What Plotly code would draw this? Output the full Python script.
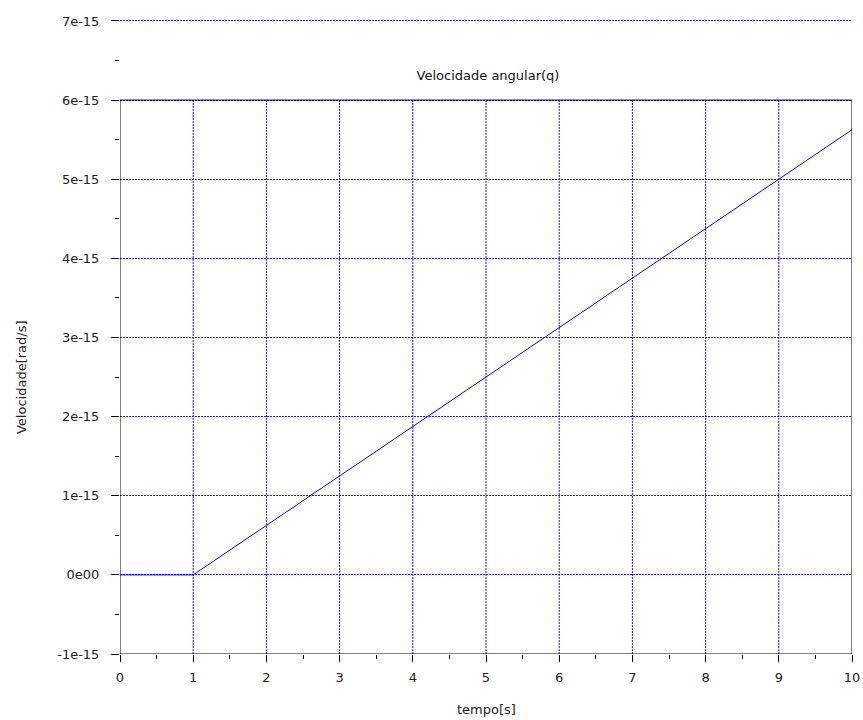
import plotly.graph_objects as go

# Data
tempo = [0, 1, 2, 3, 4, 5, 6, 7, 8, 9, 10]
velocidade = [0, 0, 0.625e-15, 1.25e-15, 1.875e-15, 2.5e-15, 3.125e-15,
              3.75e-15, 4.375e-15, 5.0e-15, 5.625e-15]
x_ticks = [0, 1, 2, 3, 4, 5, 6, 7, 8, 9, 10]
y_ticks = [-1e-15, 0, 1e-15, 2e-15, 3e-15, 4e-15, 5e-15, 6e-15, 7e-15]
y_tick_labels = ["-1e-15", "0e00", "1e-15", "2e-15", "3e-15", "4e-15", "5e-15", "6e-15", "7e-15"]
x_min, x_max = 0, 10
y_box_min, y_box_max = -1e-15, 6e-15
y_axis_max = 7.05e-15

FONT = "DejaVu Sans"
TXT = "#222222"
BLUE = "#0000ff"
GRID = "#1a1aff"
GRID_DASH = "2px,1px"

fig = go.Figure()
fig.add_trace(go.Scatter(x=tempo, y=velocidade, mode="lines",
                         line=dict(color=BLUE, width=1), hoverinfo="skip",
                         showlegend=False))

shapes = []
# vertical grid lines, only inside the box
for xv in x_ticks[1:-1]:
    shapes.append(dict(type="line", xref="x", yref="y", x0=xv, x1=xv,
                       y0=y_box_min, y1=y_box_max, layer="below",
                       line=dict(color=GRID, width=1, dash=GRID_DASH)))
# box
box = dict(color="black", width=1)
shapes += [
    dict(type="line", xref="x", yref="y", x0=x_min, x1=x_min, y0=y_box_min, y1=y_box_max, line=box),
    dict(type="line", xref="x", yref="y", x0=x_max, x1=x_max, y0=y_box_min, y1=y_box_max, line=box),
    dict(type="line", xref="x", yref="y", x0=x_min, x1=x_max, y0=y_box_max, y1=y_box_max, line=box),
    dict(type="line", xref="x", yref="y", x0=x_min, x1=x_max, y0=y_box_min, y1=y_box_min, line=box),
]

W, H = 863, 720
L, R, T, B = 120, 11, 17, 66
plot_w = W - L - R
plot_h = H - T - B

fig.update_layout(
    width=W, height=H,
    margin=dict(l=L, r=R, t=T, b=B, autoexpand=False),
    paper_bgcolor="white", plot_bgcolor="white",
    font=dict(family=FONT, size=13, color=TXT),
    shapes=shapes,
    title=dict(text="Velocidade angular(q)", xref="container", x=488/W,
               xanchor="center", yref="container", y=1 - 75/H, yanchor="middle",
               font=dict(family=FONT, size=13, color="#111111")),
    xaxis=dict(range=[x_min, x_max], tickvals=x_ticks, showgrid=False,
               zeroline=False, showline=False, ticks="outside", ticklen=7,
               tickwidth=1, tickcolor="black", ticklabelstandoff=4,
               automargin=False,
               minor=dict(ticks="outside", ticklen=4, dtick=0.5, tick0=0,
                          tickcolor="black", showgrid=False),
               tickfont=dict(family=FONT, size=13, color=TXT)),
    yaxis=dict(range=[y_box_min, y_axis_max], tickvals=y_ticks, ticktext=y_tick_labels,
               showgrid=True, gridcolor=GRID, gridwidth=1, griddash=GRID_DASH,
               zeroline=False, showline=False, ticks="outside", ticklen=8,
               tickwidth=1, tickcolor="black", ticklabelstandoff=9,
               automargin=False,
               minor=dict(ticks="outside", ticklen=4, dtick=0.5e-15, tick0=0,
                          tickcolor="black", showgrid=False),
               tickfont=dict(family=FONT, size=13, color=TXT)),
    annotations=[
        dict(text="tempo[s]", xref="x", x=5, yref="paper", y=-(710 - (H - B)) / plot_h,
             xanchor="center", yanchor="middle", showarrow=False,
             font=dict(family=FONT, size=13, color=TXT)),
        dict(text="Velocidade[rad/s]", xref="paper", x=(21 - L) / plot_w, yref="y",
             y=2.5e-15, xanchor="center", yanchor="middle", textangle=-90,
             showarrow=False, font=dict(family=FONT, size=13, color=TXT)),
    ],
)

fig.write_html("out.html", config={"displayModeBar": False},
               post_script="document.body.style.margin='0';document.body.style.overflow='hidden';")
